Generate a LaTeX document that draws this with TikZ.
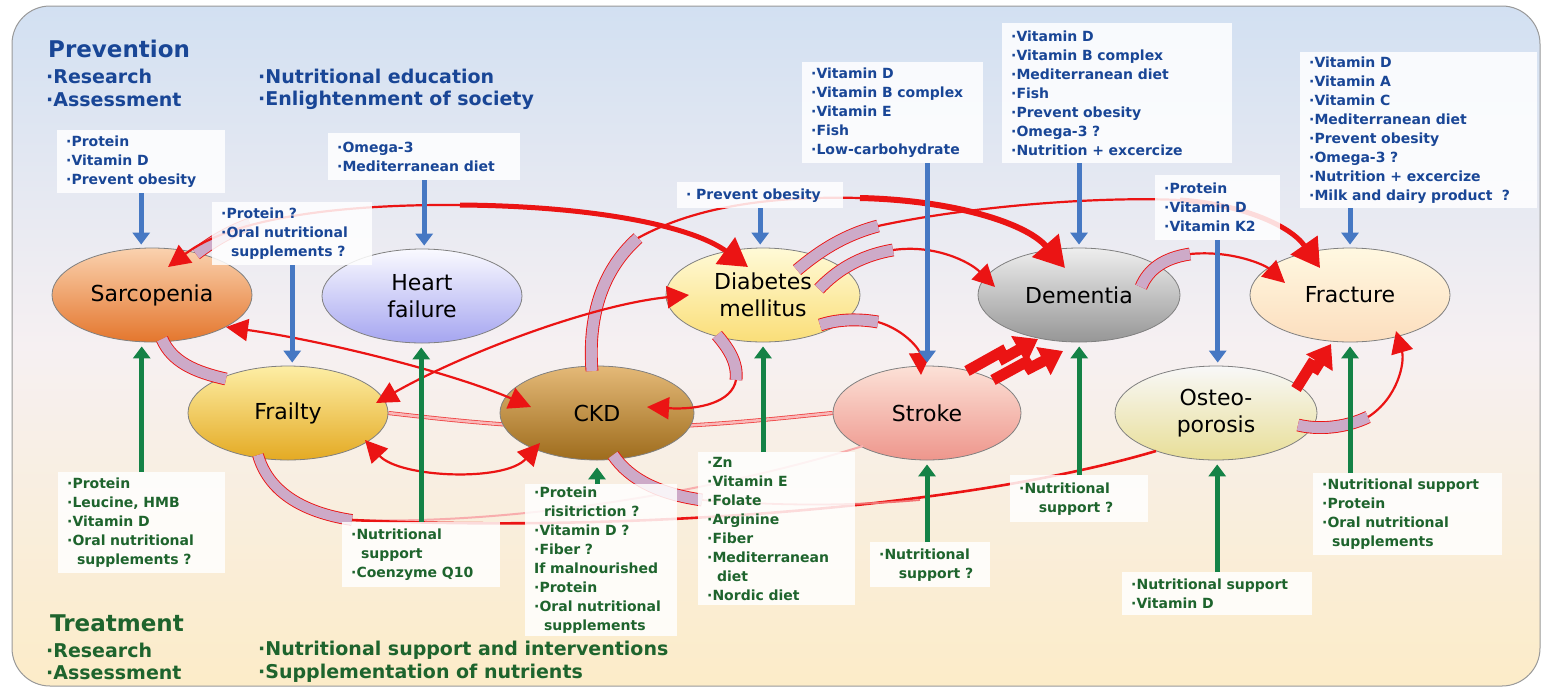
\documentclass[tikz,border=0pt]{standalone}
\usepackage{fontspec}
\setmainfont{DejaVu Sans}
\usetikzlibrary{shapes.geometric,arrows.meta,calc}

\definecolor{prevblue}{RGB}{25,70,150}
\definecolor{treatgreen}{RGB}{30,100,45}
\definecolor{arrowblue}{RGB}{70,120,195}
\definecolor{arrowgreen}{RGB}{20,130,70}
\definecolor{relred}{RGB}{235,20,20}
\definecolor{bandlilac}{RGB}{205,170,200}
\definecolor{bgtop}{RGB}{210,224,242}
\definecolor{bgmid}{RGB}{246,240,242}
\definecolor{bgbot}{RGB}{252,236,200}
\definecolor{sarcA}{RGB}{250,210,175}\definecolor{sarcB}{RGB}{228,118,45}
\definecolor{hfA}{RGB}{250,250,255}\definecolor{hfB}{RGB}{165,165,240}
\definecolor{frailA}{RGB}{253,238,165}\definecolor{frailB}{RGB}{228,170,35}
\definecolor{ckdA}{RGB}{228,185,120}\definecolor{ckdB}{RGB}{158,108,28}
\definecolor{diabA}{RGB}{255,250,215}\definecolor{diabB}{RGB}{250,222,120}
\definecolor{strokeA}{RGB}{252,225,215}\definecolor{strokeB}{RGB}{238,150,140}
\definecolor{demA}{RGB}{238,238,238}\definecolor{demB}{RGB}{150,150,150}
\definecolor{fracA}{RGB}{255,248,225}\definecolor{fracB}{RGB}{252,222,190}
\definecolor{osteoA}{RGB}{248,248,248}\definecolor{osteoB}{RGB}{232,222,150}

\pgfdeclarelayer{bg}
\pgfdeclarelayer{fg}
\pgfsetlayers{bg,main,fg}

\begin{document}
\begin{tikzpicture}[x=1pt,y=1pt]

    \tikzset{
      disease/.style={
        ellipse,
        draw=black!50,
        line width=0.8pt,
        minimum width=200pt,
        minimum height=94pt,
        inner sep=0pt,
        align=center,
        font=\fontsize{22}{27}\selectfont,
      },
      listbox/.style={anchor=north west, fill=white, fill opacity=0.85, text opacity=1,
        align=left, inner xsep=9pt, inner ysep=0pt, font=\bfseries\fontsize{14}{19}\selectfont},
      prevbox/.style={listbox, text=prevblue},
      treatbox/.style={listbox, text=treatgreen},
      heading/.style={anchor=west, inner sep=0pt, font=\bfseries\fontsize{23}{26}\selectfont},
      subhead/.style={anchor=west, inner sep=0pt, font=\bfseries\fontsize{19}{23}\selectfont},
      prevarrow/.style={draw=arrowblue, line width=5pt, shorten >=3pt, -{Triangle[width=17pt,length=12pt]}},
      treatarrow/.style={draw=arrowgreen, line width=5pt, shorten >=4pt, -{Triangle[width=17pt,length=12pt]}},
      relline/.style={draw=relred, line width=2.2pt},
      relthick/.style={draw=relred, line width=5pt},
      band/.style={draw=relred, line width=0.9pt, double=bandlilac, double distance=11pt},
      bolt/.style={draw=relred, line width=11pt, line join=miter, -{Triangle[width=30pt,length=22pt]}},
      >={Triangle[width=22pt,length=22pt]},
    }
    \useasboundingbox (0,0) rectangle (1545,-689);

\begin{pgfonlayer}{bg}
    \shadedraw[rounded corners=38pt, draw=black!40, line width=1pt, top color=bgtop, bottom color=bgbot, middle color=bgmid] (12,-6) rectangle (1540,-686);
\end{pgfonlayer}

    % diseases
    \node[disease, top color=sarcA, bottom color=sarcB] (sarc) at (152,-295) {Sarcopenia};
    \node[disease, top color=hfA, bottom color=hfB] (hf) at (422,-296) {Heart\\failure};
    \node[disease, top color=frailA, bottom color=frailB] (frail) at (288,-413) {Frailty};
    \node[disease, minimum width=194pt, top color=ckdA, bottom color=ckdB] (ckd) at (597,-413) {CKD};
    \node[disease, minimum width=194pt, top color=diabA, bottom color=diabB] (diab) at (763,-295) {Diabetes\\mellitus};
    \node[disease, minimum width=188pt, top color=strokeA, bottom color=strokeB] (stroke) at (927,-413) {Stroke};
    \node[disease, minimum width=202pt, top color=demA, bottom color=demB] (dem) at (1079,-295) {Dementia};
    \node[disease, top color=fracA, bottom color=fracB] (frac) at (1350,-295) {Fracture};
    \node[disease, minimum width=202pt, top color=osteoA, bottom color=osteoB] (osteo) at (1216,-413) {Osteo-\\porosis};

\begin{pgfonlayer}{bg}
    \draw[draw=relred!80, line width=0.8pt, double=relred!30, double distance=2.5pt] (frail.east) .. controls (450,-420) and (520,-428) .. (600,-428) .. controls (700,-428) and (780,-418) .. (stroke.west);
\end{pgfonlayer}

    % relations
    \draw[band] ($(sarc)+(10,-44)$) .. controls (172,-362) and (195,-372) .. ($(frail)+(-62,34)$);
    \draw[band] (196,-254) .. controls (212,-242) and (228,-232) .. (250,-224);
    \draw[relline, <-] ($(sarc)+(16,28)$) .. controls (230,-220) and (330,-204) .. (460,-205);
    \draw[relthick, -{Triangle[width=32pt,length=28pt]}] (460,-205) .. controls (590,-206) and (690,-225) .. ($(diab)+(-15,28)$);

    \draw[band] ($(ckd)+(-5,42)$) .. controls (588,-320) and (600,-272) .. (638,-238);
    \draw[relline] (638,-238) .. controls (700,-204) and (780,-196) .. (860,-198);
    \draw[relthick, line width=6pt, -{Triangle[width=34pt,length=30pt]}] (860,-198) .. controls (950,-200) and (1025,-222) .. ($(dem)+(-14,27)$);

    \draw[band] ($(diab)+(34,25)$) .. controls (815,-255) and (840,-236) .. (878,-226);
    \draw[relline] (878,-226) .. controls (960,-208) and (1090,-196) .. (1180,-200);
    \draw[relthick, -{Triangle[width=32pt,length=28pt]}] (1180,-200) .. controls (1240,-204) and (1290,-225) .. ($(frac)+(-30,27)$);

    \draw[band] ($(diab)+(56,6)$) .. controls (835,-272) and (858,-256) .. (893,-250);
    \draw[relline, ->] (893,-250) .. controls (935,-244) and (970,-262) .. ($(dem)+(-84,8)$);

    \draw[band] ($(diab)+(57,-30)$) .. controls (835,-320) and (855,-318) .. (878,-322);
    \draw[relline, ->] (878,-322) .. controls (905,-330) and (920,-350) .. ($(stroke)+(-6,38)$);

    \draw[band] ($(diab)+(-46,-40)$) .. controls (728,-348) and (738,-362) .. (736,-380);
    \draw[relline, ->] (736,-380) .. controls (732,-402) and (700,-410) .. ($(ckd)+(50,6)$);

    \draw[band] ($(dem)+(62,8)$) .. controls (1148,-270) and (1163,-258) .. (1190,-254);
    \draw[relline, ->] (1190,-254) .. controls (1232,-250) and (1265,-265) .. ($(frac)+(-65,12)$);

    \draw[band] ($(osteo)+(82,-12)$) .. controls (1318,-430) and (1345,-428) .. (1368,-417);
    \draw[relline, ->] (1368,-417) .. controls (1398,-398) and (1405,-362) .. ($(frac)+(46,-36)$);

    \draw[bolt] ($(osteo)+(80,24)$) -- (1311,-365) -- (1316,-368) -- ($(frac)+(-19,-49)$);
    \draw[bolt] ($(stroke)+(40,42)$) -- (1001,-352) -- (1004,-358) -- ($(dem)+(-41,-44)$);
    \draw[bolt] ($(stroke)+(66,33)$) -- (1026,-362) -- (1030,-368) -- ($(dem)+(-16,-56)$);

    \draw[relline, <->] ($(sarc)+(74,-32)$) .. controls (320,-340) and (450,-372) .. ($(ckd)+(-66,6)$);
    \draw[relline, <->] ($(frail)+(88,10)$) .. controls (460,-355) and (590,-305) .. ($(diab)+(-74,0)$);
    \draw[relline, <->] ($(frail)+(77,-27)$) .. controls (400,-478) and (505,-482) .. ($(ckd)+(-57,-30)$);

    \draw[relline, draw=relred!35, line width=2pt] (352,-520) .. controls (520,-525) and (720,-490) .. ($(stroke)+(-64,-33)$);
    \draw[band, double distance=10pt] ($(frail)+(-30,-42)$) .. controls (268,-490) and (300,-512) .. (352,-520);
    \draw[relline, line width=2.6pt] (352,-520) .. controls (600,-532) and (950,-512) .. ($(osteo)+(-60,-38)$);
    \draw[band] ($(ckd)+(16,-42)$) .. controls (630,-480) and (660,-494) .. (702,-500);
    \draw[relline, draw=relred!60, line width=1.8pt] (702,-500) .. controls (780,-506) and (850,-506) .. (920,-500);

\begin{pgfonlayer}{fg}
    % prevention
    \node[heading, text=prevblue] (prevTitle) at (48,-49) {Prevention};
    \node[subhead, text=prevblue] (prevRes) at (46,-76) {·Research};
    \node[subhead, text=prevblue] (prevAss) at (46,-100) {·Assessment};
    \node[subhead, text=prevblue] (prevEdu) at (258,-76) {·Nutritional education};
    \node[subhead, text=prevblue] (prevSoc) at (258,-100) {·Enlightenment of society};

    \node[prevbox, text width=150pt, minimum height=63pt] (sarcPrev) at (57,-130) {·Protein\\·Vitamin D\\·Prevent obesity};
    \node[prevbox, text width=174pt, minimum height=47pt] (hfPrev) at (328,-133) {·Omega-3\\·Mediterranean diet};
    \node[prevbox, text width=142pt, minimum height=63pt] (frailPrev) at (212,-202) {·Protein ?\\·Oral nutritional\\\hspace*{0.7em}supplements ?};
    \node[prevbox, text width=148pt, minimum height=26pt] (diabPrev) at (677,-182) {· Prevent obesity};
    \node[prevbox, text width=163pt, minimum height=101pt] (strokePrev) at (802,-62) {·Vitamin D\\·Vitamin B complex\\·Vitamin E\\·Fish\\·Low-carbohydrate};
    \node[prevbox, text width=212pt, minimum height=140pt] (demPrev) at (1002,-23) {·Vitamin D\\·Vitamin B complex\\·Mediterranean diet\\·Fish\\·Prevent obesity\\·Omega-3 ?\\·Nutrition + excercize};
    \node[prevbox, text width=107pt, minimum height=65pt] (osteoPrev) at (1155,-175) {·Protein\\·Vitamin D\\·Vitamin K2};
    \node[prevbox, text width=219pt, minimum height=156pt] (fracPrev) at (1300,-52) {·Vitamin D\\·Vitamin A\\·Vitamin C\\·Mediterranean diet\\·Prevent obesity\\·Omega-3 ?\\·Nutrition + excercize\\·Milk and dairy product\ \ ?};

    \draw[prevarrow] (sarcPrev.south) -- (sarcPrev.south |- sarc.north);
    \draw[prevarrow] (hfPrev.south) -- (hfPrev.south |- hf.north);
    \draw[prevarrow] (frailPrev.south) -- (frailPrev.south |- frail.north);
    \draw[prevarrow] (diabPrev.south) -- (diabPrev.south |- diab.north);
    \draw[prevarrow] (stroke.north |- strokePrev.south) -- (stroke.north);
    \draw[prevarrow] (dem.north |- demPrev.south) -- (dem.north);
    \draw[prevarrow] (osteoPrev.south) -- (osteoPrev.south |- osteo.north);
    \draw[prevarrow] (frac.north |- fracPrev.south) -- (frac.north);

    % treatment
    \node[heading, text=treatgreen] (treatTitle) at (50,-623) {Treatment};
    \node[subhead, text=treatgreen] (treatRes) at (46,-650) {·Research};
    \node[subhead, text=treatgreen] (treatAss) at (46,-673) {·Assessment};
    \node[subhead, text=treatgreen] (treatSup) at (258,-650) {·Nutritional support and interventions};
    \node[subhead, text=treatgreen] (treatNut) at (258,-673) {·Supplementation of nutrients};

    \node[treatbox, text width=149pt, minimum height=101pt] (sarcTreat) at (58,-472) {·Protein\\·Leucine, HMB\\·Vitamin D\\·Oral nutritional\\\hspace*{0.7em}supplements ?};
    \node[treatbox, text width=140pt, minimum height=65pt] (hfTreat) at (342,-522) {·Nutritional\\\hspace*{0.7em}support\\·Coenzyme Q10};
    \node[treatbox, text width=134pt, minimum height=152pt] (ckdTreat) at (525,-484) {·Protein\\\hspace*{0.7em}risitriction ?\\·Vitamin D ?\\·Fiber ?\\If malnourished\\·Protein\\·Oral nutritional\\\hspace*{0.7em}supplements};
    \node[treatbox, text width=139pt, minimum height=153pt] (diabTreat) at (698,-452) {·Zn\\·Vitamin E\\·Folate\\·Arginine\\·Fiber\\·Mediterranean\\\hspace*{0.7em}diet\\·Nordic diet};
    \node[treatbox, text width=102pt, minimum height=45pt] (strokeTreat) at (870,-542) {·Nutritional\\\hspace*{1.4em}support ?};
    \node[treatbox, text width=120pt, minimum height=47pt] (demTreat) at (1010,-475) {·Nutritional\\\hspace*{1.4em}support ?};
    \node[treatbox, text width=172pt, minimum height=43pt] (osteoTreat) at (1122,-572) {·Nutritional support\\·Vitamin D};
    \node[treatbox, text width=171pt, minimum height=82pt] (fracTreat) at (1313,-473) {·Nutritional support\\·Protein\\·Oral nutritional\\\hspace*{0.7em}supplements};

    \draw[treatarrow] (sarcTreat.north) -- (sarcTreat.north |- sarc.south);
    \draw[treatarrow] (hfTreat.north) -- (hfTreat.north |- hf.south);
    \draw[treatarrow, shorten >=7pt] (ckd.south |- ckdTreat.north) -- (ckd.south);
    \draw[treatarrow] (diab.south |- diabTreat.north) -- (diab.south);
    \draw[treatarrow] (stroke.south |- strokeTreat.north) -- (stroke.south);
    \draw[treatarrow] (demTreat.north) -- (demTreat.north |- dem.south);
    \draw[treatarrow] (osteoTreat.north) -- (osteoTreat.north |- osteo.south);
    \draw[treatarrow] (frac.south |- fracTreat.north) -- (frac.south);
\end{pgfonlayer}

\end{tikzpicture}
\end{document}
